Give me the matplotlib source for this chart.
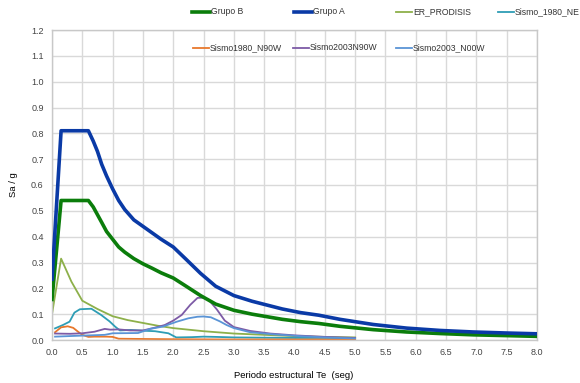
import matplotlib
matplotlib.use("Agg")
import matplotlib.pyplot as plt
from matplotlib.lines import Line2D

plt.rcParams["font.family"] = ["Liberation Sans", "DejaVu Sans"]

# spectra (T in s, Sa/g)
T_GRUPO = [0.0, 0.15, 0.6, 0.68, 0.75, 0.82, 0.9, 1.0, 1.1, 1.2, 1.35, 1.5, 1.65, 1.8, 2.0,
           2.2, 2.45, 2.7, 3.0, 3.3, 3.55, 3.8, 4.1, 4.4, 4.75, 5.3, 5.85, 6.4, 6.95, 7.5, 8.0]
GRUPO_A = [0.235, 0.81, 0.81, 0.77, 0.73, 0.68, 0.635, 0.585, 0.54, 0.505, 0.465, 0.44, 0.415, 0.39, 0.36,
           0.315, 0.258, 0.208, 0.172, 0.15, 0.135, 0.12, 0.106, 0.096, 0.08, 0.06, 0.046, 0.037, 0.031, 0.027, 0.024]
GRUPO_B = [0.157, 0.54, 0.54, 0.515, 0.485, 0.455, 0.42, 0.39, 0.36, 0.34, 0.315, 0.295, 0.278, 0.26, 0.24,
           0.21, 0.172, 0.139, 0.115, 0.1, 0.09, 0.08, 0.071, 0.064, 0.053, 0.04, 0.031, 0.025, 0.02, 0.017, 0.014]

T_PRODISIS = [0.0, 0.15, 0.32, 0.5, 0.75, 1.0, 1.25, 1.5, 1.75, 2.0, 2.5, 3.0, 3.5, 4.0, 4.5, 5.0]
ER_PRODISIS = [0.10, 0.315, 0.226, 0.152, 0.12, 0.092, 0.077, 0.066, 0.055, 0.046, 0.034, 0.025, 0.02, 0.015, 0.012, 0.01]

T_1980_NE = [0.05, 0.18, 0.29, 0.37, 0.46, 0.55, 0.65, 0.81, 0.95, 1.04, 1.12, 1.3, 1.5, 1.7, 1.92, 2.05,
             2.3, 2.5, 2.7, 3.0, 3.5, 4.0, 4.5, 5.0]
SISMO_1980_NE = [0.045, 0.058, 0.071, 0.106, 0.119, 0.12, 0.121, 0.097, 0.072, 0.052, 0.037, 0.039, 0.036, 0.034,
                 0.026, 0.01, 0.011, 0.013, 0.012, 0.01, 0.009, 0.008, 0.008, 0.007]

T_1980_N90W = [0.05, 0.15, 0.26, 0.35, 0.43, 0.5, 0.6, 0.7, 0.9, 1.0, 1.1, 1.5, 2.0, 3.0, 4.0, 5.0]
SISMO_1980_N90W = [0.03, 0.049, 0.053, 0.047, 0.032, 0.02, 0.012, 0.013, 0.013, 0.012, 0.005, 0.004, 0.003,
                   0.002, 0.002, 0.002]

T_2003_N90W = [0.05, 0.3, 0.5, 0.7, 0.87, 0.96, 1.1, 1.29, 1.5, 1.7, 1.86, 2.0, 2.14, 2.28, 2.4, 2.5, 2.58,
               2.72, 2.85, 3.0, 3.27, 3.6, 4.0, 4.5, 5.0]
SISMO_2003_N90W = [0.025, 0.024, 0.026, 0.032, 0.043, 0.04, 0.041, 0.037, 0.037, 0.048, 0.058, 0.075, 0.097,
                   0.136, 0.163, 0.164, 0.157, 0.118, 0.075, 0.05, 0.035, 0.025, 0.018, 0.012, 0.008]

T_2003_N00W = [0.05, 0.5, 0.87, 1.0, 1.42, 1.62, 1.83, 2.06, 2.25, 2.4, 2.5, 2.62, 2.77, 2.88, 3.0, 3.27,
               3.65, 4.09, 4.5, 5.0]
SISMO_2003_N00W = [0.013, 0.017, 0.02, 0.026, 0.027, 0.043, 0.052, 0.071, 0.084, 0.09, 0.091, 0.088, 0.072,
                   0.058, 0.046, 0.03, 0.022, 0.015, 0.01, 0.006]

X_TICKS = [i * 0.5 for i in range(17)]
Y_TICKS = [i * 0.1 for i in range(13)]

SERIES = [
    ("Grupo B", T_GRUPO, GRUPO_B, "#0b7d0b", 2.6),
    ("Grupo A", T_GRUPO, GRUPO_A, "#0a3aa6", 2.6),
    ("ER_PRODISIS", T_PRODISIS, ER_PRODISIS, "#8db04a", 1.3),
    ("Sismo_1980_NE", T_1980_NE, SISMO_1980_NE, "#2e9db5", 1.3),
    ("Sismo1980_N90W", T_1980_N90W, SISMO_1980_N90W, "#e8782c", 1.3),
    ("Sismo2003N90W", T_2003_N90W, SISMO_2003_N90W, "#7d5ba6", 1.3),
    ("Sismo2003_N00W", T_2003_N00W, SISMO_2003_N00W, "#5a94d6", 1.3),
]

# legend slots (figure pixels, left of handle / centre y)
LEGEND_SLOTS = [(192, 12), (294, 12), (396, 12), (498, 12), (193, 48), (293, 48), (396, 48)]

W, H = 580, 383
fig = plt.figure(figsize=(W / 100, H / 100), dpi=100)
ax = fig.add_axes([52 / W, 1 - 340 / H, (537 - 52) / W, (340 - 30) / H])

# thin lines first, then the design spectra on top
for name, t, sa, color, lw in SERIES[2:] + SERIES[:2]:
    ax.plot(t, sa, color=color, linewidth=lw, solid_joinstyle="round", zorder=3 if lw > 2 else 2)

ax.set_xlim(0, 8)
ax.set_ylim(0, 1.2)
ax.set_xticks(X_TICKS)
ax.set_yticks(Y_TICKS)
ax.set_xticklabels([f"{v:.1f}" for v in X_TICKS])
ax.set_yticklabels([f"{v:.1f}" for v in Y_TICKS])
ax.tick_params(length=0, labelsize=6.5, labelcolor="#444444", pad=6)
ax.grid(color="#d9d9d9", linewidth=1.0)
ax.set_axisbelow(True)
for spine in ax.spines.values():
    spine.set_color("#c8c8c8")
    spine.set_linewidth(1.0)

fig.text(294 / W, 1 - 376 / H, "Periodo estructural Te  (seg)", fontsize=6.8,
         ha="center", va="center")
fig.text(13 / W, 1 - 185 / H, "Sa / g", fontsize=6.8, rotation=90,
         ha="center", va="center")

for (name, t, sa, color, lw), (px, py) in zip(SERIES, LEGEND_SLOTS):
    hl = 18 if lw > 2 else 16
    fig.add_artist(Line2D([px / W, (px + hl) / W], [1 - py / H, 1 - py / H],
                          color=color, linewidth=lw, transform=fig.transFigure))
    fig.text((px + hl + 1) / W, 1 - py / H, name, fontsize=6.2, color="#333333",
             va="center", ha="left")

fig.savefig("out.png", dpi=100)
